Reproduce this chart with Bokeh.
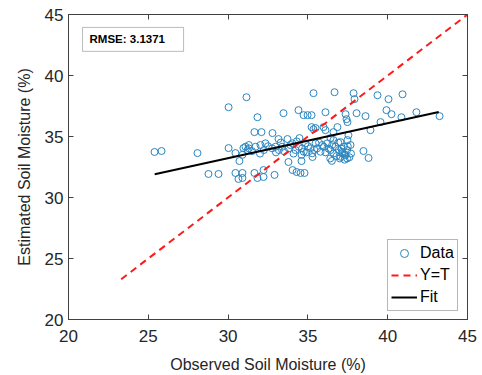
from bokeh.plotting import figure
from bokeh.models import Range1d, LinearAxis, Legend, LegendItem, BoxAnnotation, Label, FixedTicker
from bokeh.embed import file_html
from bokeh.resources import INLINE

# ---- data ----
obs_x = [25.39, 25.83, 28.08, 30.03, 31.15, 31.84, 33.47, 34.41, 31.65, 32.09,
         33.16, 33.72, 30.03, 30.46, 30.96, 31.22, 30.71, 28.77, 29.40, 30.46,
         30.90, 30.65, 30.90, 31.65, 32.22, 31.84, 32.22, 32.91, 33.78, 34.04,
         34.29, 34.54, 34.79, 35.35, 36.67, 37.86, 37.92, 39.36, 40.05, 40.93,
         34.73, 34.98, 35.23, 36.10, 37.36, 37.42, 38.05, 38.61, 39.92, 40.24,
         40.86, 41.80, 43.25, 35.23, 35.35, 35.98, 36.10, 36.60, 38.92, 39.55,
         37.54, 38.48, 38.80, 34.60, 35.29, 32.78, 34.47, 35.48, 36.85, 37.48,
         36.42, 36.60, 37.04, 37.48,
         31.09, 31.30, 31.72, 32.03, 32.24, 32.34, 32.76, 32.97, 33.18, 33.39,
         33.80, 34.02, 34.22, 34.43, 34.64, 34.74, 34.85, 35.16, 35.27, 35.48,
         35.58, 35.79, 36.00, 36.21, 36.42, 36.52, 36.73, 36.94, 37.15, 37.25,
         37.46, 37.67,
         32.50, 33.00, 33.50, 33.90, 34.10, 34.30, 34.60, 35.00, 35.40, 35.70,
         36.10, 36.30, 36.60, 36.90, 37.10, 37.30, 37.50, 37.70, 31.50, 32.00,
         33.30, 34.90, 35.90, 36.80, 37.60, 36.40, 37.00, 37.30, 36.50, 31.30,
         30.90, 37.15, 37.36, 37.04, 37.46]
est_y = [33.73, 33.81, 33.64, 37.40, 38.22, 36.58, 36.91, 37.16, 35.36, 35.36,
         34.79, 34.79, 34.05, 33.64, 34.05, 33.89, 32.99, 31.93, 31.93, 32.01,
         32.01, 31.52, 31.60, 32.01, 32.25, 31.60, 31.68, 31.85, 32.91, 32.25,
         32.09, 32.01, 32.01, 38.55, 38.63, 38.55, 38.06, 38.38, 38.06, 38.46,
         36.75, 36.75, 36.75, 36.99, 36.83, 36.42, 36.91, 36.67, 37.16, 36.83,
         36.58, 36.99, 36.67, 35.77, 35.60, 35.77, 35.52, 35.36, 35.52, 36.18,
         35.11, 33.81, 33.24, 32.99, 33.32, 35.28, 34.87, 35.69, 35.77, 36.18,
         34.87, 34.71, 34.54, 34.71,
         34.16, 34.03, 34.16, 34.30, 33.89, 34.44, 34.03, 34.16, 33.89, 34.16,
         34.03, 34.44, 33.89, 34.16, 34.03, 33.75, 34.44, 34.03, 33.62, 34.44,
         34.03, 33.75, 34.16, 34.44, 33.89, 34.30, 34.16, 33.89, 33.62, 34.16,
         33.89, 34.30,
         34.20, 33.70, 33.80, 34.30, 33.60, 34.60, 33.50, 34.20, 33.90, 34.50,
         33.70, 34.00, 33.60, 34.50, 34.00, 33.50, 34.20, 33.60, 33.80, 33.60,
         34.50, 33.70, 34.30, 33.40, 33.30, 33.20, 33.20, 33.10, 33.00, 34.30,
         33.50, 33.75, 33.48, 33.34, 33.20]

yt_x = [23.3, 45.0]
yt_y = [23.3, 45.0]
fit_x = [25.4, 43.2]
fit_y = [31.9, 37.0]

ticks = [20, 25, 30, 35, 40, 45]
rmse_text = "RMSE: 3.1371"
x_title = "Observed Soil Moisture (%)"
y_title = "Estimated Soil Moisture (%)"

FONT = "Liberation Sans"
AX = "#404040"

p = figure(width=482, height=375, output_backend="svg", toolbar_location=None,
           x_range=Range1d(20, 45), y_range=Range1d(20, 45),
           min_border_left=68, min_border_right=15, min_border_top=14, min_border_bottom=55)
p.background_fill_color = "white"
p.border_fill_color = "white"
p.outline_line_color = AX
p.outline_line_width = 1
p.xgrid.visible = False
p.ygrid.visible = False

for ax in (p.xaxis[0], p.yaxis[0]):
    ax.ticker = FixedTicker(ticks=ticks)
    ax.minor_tick_line_color = None
    ax.major_tick_in = 5
    ax.major_tick_out = 0
    ax.axis_line_color = AX
    ax.major_tick_line_color = AX
    ax.major_label_text_font = FONT
    ax.major_label_text_font_size = "17px"
    ax.major_label_text_color = "#262626"
    ax.axis_label_text_font = FONT
    ax.axis_label_text_font_size = "16px"
    ax.axis_label_text_font_style = "normal"
    ax.axis_label_text_color = "#262626"

p.xaxis[0].axis_label = x_title
p.yaxis[0].axis_label = y_title
p.xaxis[0].major_label_standoff = 10
p.yaxis[0].major_label_standoff = 5
p.xaxis[0].axis_label_standoff = 11
p.yaxis[0].axis_label_standoff = 9

for loc in ("above", "right"):
    a = LinearAxis(ticker=FixedTicker(ticks=ticks))
    a.minor_tick_line_color = None
    a.major_tick_in = 5
    a.major_tick_out = 0
    a.axis_line_color = AX
    a.major_tick_line_color = AX
    a.major_label_text_font_size = "4px"
    a.major_label_text_color = None
    a.major_label_standoff = 0
    p.add_layout(a, loc)

r_data = p.scatter(obs_x, est_y, size=7, marker="circle", fill_color=None,
                   line_color="#2b86c0", line_width=1)
r_yt = p.line(yt_x, yt_y, line_color="#ff1a1a", line_width=2, line_dash="7 5")
r_fit = p.line(fit_x, fit_y, line_color="black", line_width=2)

box = BoxAnnotation(left=20.88, right=27.21, bottom=41.98, top=43.94,
                    fill_color="white", fill_alpha=1.0, line_color="#202020", line_width=1)
p.add_layout(box)
p.add_layout(Label(x=21.32, y=42.96, text=rmse_text, text_font=FONT, text_font_size="11.5px",
                   text_font_style="bold", text_baseline="middle", text_color="black"))

legend = Legend(items=[LegendItem(label="Data", renderers=[r_data]),
                       LegendItem(label="Y=T", renderers=[r_yt]),
                       LegendItem(label="Fit", renderers=[r_fit])],
                location=(319, 8), margin=0, padding=3, spacing=2,
                glyph_width=26, glyph_height=20, label_height=20, label_standoff=3,
                label_text_font=FONT, label_text_font_size="16px", label_text_color="black",
                border_line_color="#707070", border_line_width=1,
                background_fill_color="white", background_fill_alpha=1.0)
p.add_layout(legend)

open("out.html", "w").write(file_html(p, INLINE))
